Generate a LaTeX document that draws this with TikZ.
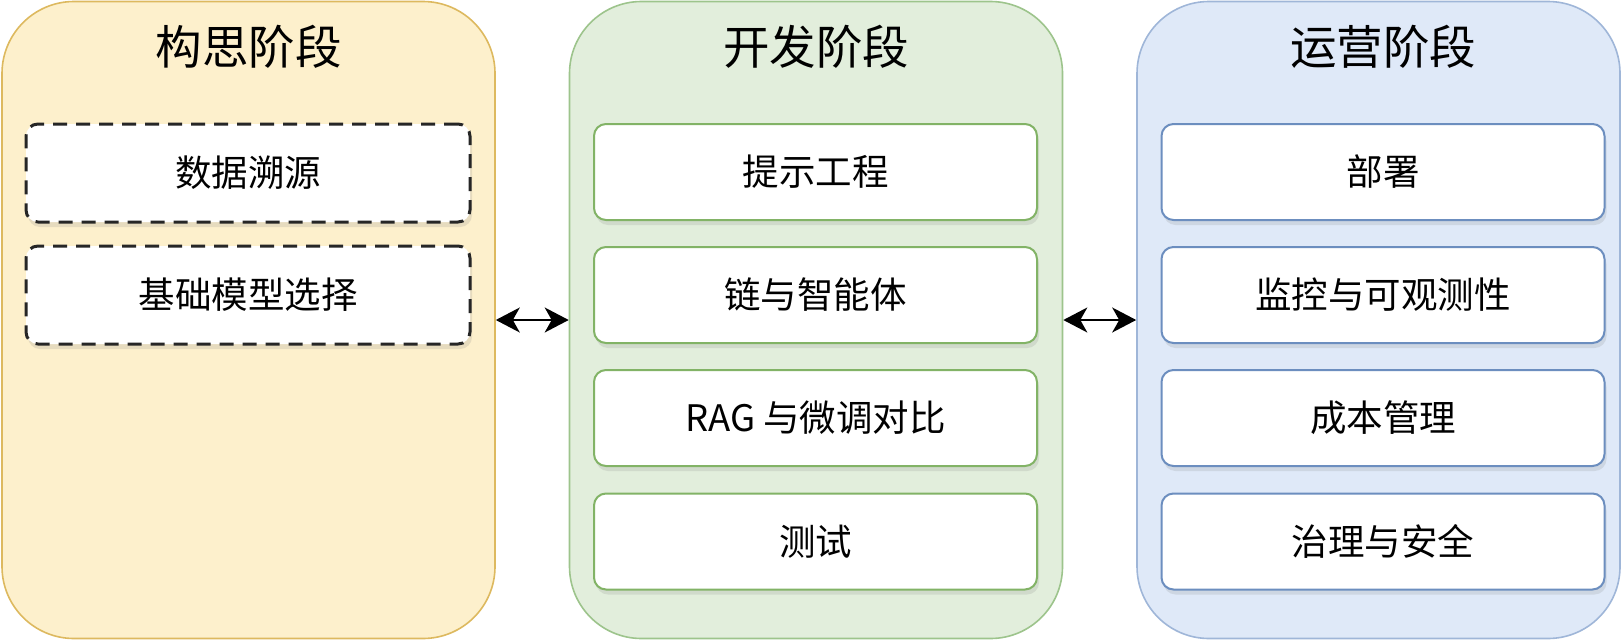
\documentclass[tikz,border=0pt]{standalone}
\usepackage{fontspec}
\setmainfont{Noto Sans CJK SC}
\usetikzlibrary{arrows.meta,shadows}
\definecolor{yfill}{HTML}{FDF0CC}
\definecolor{ydraw}{HTML}{DDB95F}
\definecolor{gfill}{HTML}{E2EEDC}
\definecolor{gdraw}{HTML}{9DC48C}
\definecolor{bfill}{HTML}{DFE9F8}
\definecolor{bdraw}{HTML}{9FB6D8}
\definecolor{gbox}{HTML}{82B366}
\definecolor{bbox}{HTML}{6C8EBF}
\tikzset{
  phase/.style={draw, line width=1.6pt, rounded corners=72pt, minimum width=493pt, minimum height=637pt, inner sep=0pt},
  ptitle/.style={font=\fontsize{46.5}{52}\selectfont, text=black, inner sep=0pt},
  itembox/.style={draw, fill=white, rounded corners=12pt, minimum width=443pt, minimum height=96pt, inner sep=0pt,
    font=\fontsize{36.5}{42}\selectfont, text=black,
    drop shadow={opacity=0.18, shadow xshift=2pt, shadow yshift=-5pt}},
  gitem/.style={itembox, draw=gbox, line width=2pt},
  bitem/.style={itembox, draw=bbox, line width=2pt},
  ditem/.style={itembox, minimum width=444pt, minimum height=98pt, draw=black!85, line width=3pt, dash pattern=on 14pt off 9pt},
  biarrow/.style={line width=2pt, {Stealth[length=24pt,width=25pt,inset=7pt]}-{Stealth[length=24pt,width=25pt,inset=7pt]}}
}
\begin{document}
\begin{tikzpicture}[x=1pt,y=-1pt]
\useasboundingbox (0,0) rectangle (1621,640);
% containers
\node[phase, fill=yfill, draw=ydraw] (c1) at (248.5,320) {};
\node[phase, fill=gfill, draw=gdraw] (c2) at (816,320) {};
\node[phase, fill=bfill, draw=bdraw, minimum width=483pt] (c3) at (1378.5,320) {};
% titles
\node[ptitle] (t1) at (248.5,47) {构思阶段};
\node[ptitle] (t2) at (816,47) {开发阶段};
\node[ptitle] (t3) at (1383,47) {运营阶段};
% ideation items
\node[ditem] (a1) at (248,173) {数据溯源};
\node[ditem] (a2) at (248,295) {基础模型选择};
% development items
\node[gitem] (d1) at (815.5,172) {提示工程};
\node[gitem] (d2) at (815.5,295) {链与智能体};
\node[gitem] (d3) at (815.5,418) {RAG 与微调对比};
\node[gitem] (d4) at (815.5,541.5) {测试};
% operations items
\node[bitem] (o1) at (1383,172) {部署};
\node[bitem] (o2) at (1383,295) {监控与可观测性};
\node[bitem] (o3) at (1383,418) {成本管理};
\node[bitem] (o4) at (1383,541.5) {治理与安全};
% arrows
\draw[biarrow] (c1.east |- 0,320) -- (c2.west |- 0,320);
\draw[biarrow] (c2.east |- 0,320) -- (c3.west |- 0,320);
\end{tikzpicture}
\end{document}
